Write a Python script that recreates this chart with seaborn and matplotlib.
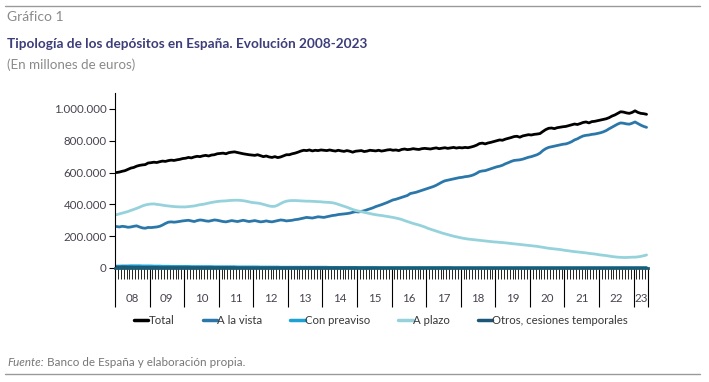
import matplotlib
matplotlib.use('Agg')
import numpy as np
import pandas as pd
import seaborn as sns
import matplotlib.pyplot as plt
from matplotlib import ticker
from matplotlib.lines import Line2D

# miles de millones de euros, mensual 2008-01 .. 2023-05
total = [
    600, 603, 608, 612, 620, 628, 632, 640, 645, 648, 650, 660,
    662, 665, 663, 668, 672, 670, 675, 678, 676, 680, 683, 688,
    690, 695, 692, 698, 702, 700, 705, 708, 704, 710, 712, 718,
    720, 722, 718, 725, 728, 730, 726, 722, 718, 715, 712, 710,
    708, 712, 706, 700, 704, 698, 695, 700, 694, 698, 705, 712,
    712, 718, 722, 728, 735, 740, 738, 742, 736, 740, 738, 742,
    740, 738, 742, 738, 735, 740, 736, 733, 738, 734, 728, 734,
    736, 738, 732, 735, 740, 738, 736, 740, 735, 738, 742, 744,
    740, 742, 738, 745, 748, 744, 746, 750, 747, 745, 750, 752,
    750, 748, 752, 755, 750, 753, 756, 752, 755, 758, 754, 757,
    755, 758, 756, 760, 765, 772, 782, 785, 780, 786, 790, 795,
    800, 805, 803, 810, 815, 820, 826, 828, 822, 830, 834, 838,
    836, 840, 842, 845, 858, 870, 878, 880, 876, 882, 885, 888,
    890, 895, 900, 905, 902, 908, 915, 918, 912, 920, 922, 926,
    930, 934, 938, 945, 955, 962, 972, 982, 980, 975, 972, 978,
    988, 978, 972, 970, 966,
]
a_la_vista = [
    261, 258, 262, 260, 256, 258, 262, 265, 258, 252, 250, 255,
    254, 256, 258, 262, 270, 280, 288, 290, 288, 290, 293, 296,
    298, 300, 296, 292, 298, 302, 300, 296, 294, 298, 302, 300,
    296, 292, 290, 294, 298, 295, 292, 296, 300, 296, 292, 295,
    298, 294, 290, 292, 296, 292, 290, 294, 298, 302, 300, 296,
    298, 300, 304, 306, 310, 314, 318, 316, 314, 318, 322, 320,
    318, 322, 326, 330, 332, 336, 338, 340, 342, 345, 350, 354,
    352, 356, 360, 366, 372, 378, 386, 392, 398, 405, 412, 420,
    428, 432, 438, 444, 450, 456, 468, 472, 476, 482, 488, 494,
    500, 506, 512, 520, 530, 540, 548, 552, 556, 560, 564, 568,
    570, 574, 576, 580, 586, 595, 606, 610, 612, 618, 624, 630,
    636, 640, 646, 655, 662, 670, 676, 678, 680, 684, 690, 696,
    700, 706, 712, 722, 738, 750, 758, 762, 766, 770, 774, 778,
    780, 786, 794, 805, 812, 822, 830, 834, 836, 840, 842, 846,
    850, 856, 864, 875, 885, 895, 905, 912, 910, 906, 904, 910,
    918, 908, 898, 890, 884,
]
con_preaviso = [
    12, 12, 13, 13, 13, 14, 14, 14, 14, 13, 13, 13,
    13, 12, 12, 12, 11, 11, 11, 10, 10, 10, 10, 10,
    10, 10, 9, 9, 9, 9, 9, 9, 9, 9, 8, 8,
    8, 8, 8, 8, 8, 8, 7, 7, 7, 7, 7, 7,
    7, 7, 6, 6, 6, 6, 6, 6, 6, 5, 5, 5,
    5, 5, 5, 5, 5, 5, 5, 5, 5, 5, 5, 5,
    5, 5, 4, 4, 4, 4, 4, 4, 4, 4, 4, 4,
    4, 4, 4, 4, 4, 4, 4, 3, 3, 3, 3, 3,
    3, 3, 3, 3, 3, 3, 3, 3, 3, 3, 3, 3,
    3, 3, 3, 3, 3, 3, 3, 3, 3, 2, 2, 2,
    2, 2, 2, 2, 2, 2, 2, 2, 2, 2, 2, 2,
    2, 2, 2, 2, 2, 2, 2, 2, 2, 2, 2, 2,
    2, 2, 2, 2, 2, 2, 2, 2, 2, 2, 2, 2,
    2, 2, 2, 2, 2, 2, 2, 2, 2, 2, 2, 2,
    2, 2, 2, 2, 2, 2, 2, 2, 2, 2, 2, 2,
    2, 2, 2, 2, 2,
]
a_plazo = [
    335, 340, 345, 350, 355, 362, 368, 375, 382, 390, 396, 400,
    402, 403, 400, 398, 395, 392, 390, 388, 386, 385, 384, 384,
    384, 386, 388, 390, 394, 398, 400, 404, 408, 412, 415, 418,
    420, 421, 422, 424, 425, 426, 426, 425, 423, 420, 416, 412,
    410, 408, 405, 400, 395, 390, 387, 388, 395, 405, 414, 420,
    423, 424, 424, 423, 422, 421, 420, 420, 419, 418, 417, 416,
    414, 413, 412, 410, 406, 400, 394, 388, 382, 375, 368, 362,
    358, 354, 350, 346, 342, 338, 335, 332, 330, 327, 324, 321,
    318, 314, 310, 305, 298, 292, 286, 280, 275, 270, 264, 258,
    250, 244, 238, 232, 226, 220, 215, 210, 205, 200, 196, 192,
    188, 185, 182, 180, 178, 176, 174, 172, 170, 168, 166, 164,
    163, 161, 160, 158, 156, 154, 152, 150, 148, 146, 144, 142,
    140, 138, 136, 133, 130, 127, 124, 122, 120, 118, 116, 113,
    110, 108, 105, 103, 101, 99, 97, 95, 92, 90, 88, 85,
    82, 80, 78, 75, 72, 70, 68, 67, 66, 66, 67, 68,
    68, 70, 73, 77, 82,
]
otros = [
    6, 6, 7, 7, 6, 6, 5, 5, 5, 4, 4, 4,
    4, 4, 4, 3, 3, 3, 3, 3, 3, 3, 3, 3,
    3, 3, 3, 3, 3, 3, 3, 3, 3, 3, 3, 3,
    3, 3, 3, 3, 3, 3, 2, 2, 2, 2, 2, 2,
    2, 2, 2, 2, 2, 2, 2, 2, 2, 2, 2, 2,
    2, 2, 2, 2, 2, 2, 2, 2, 2, 2, 2, 2,
    2, 2, 2, 2, 2, 2, 2, 2, 2, 2, 2, 2,
    1, 1, 1, 1, 1, 1, 1, 1, 1, 1, 1, 1,
    1, 1, 1, 1, 1, 1, 1, 1, 1, 1, 1, 1,
    1, 1, 1, 1, 1, 1, 1, 1, 1, 1, 1, 1,
    1, 1, 1, 1, 1, 1, 1, 1, 1, 1, 1, 1,
    1, 1, 1, 1, 1, 1, 1, 1, 1, 1, 1, 1,
    1, 1, 1, 1, 1, 1, 1, 1, 1, 1, 1, 1,
    1, 1, 1, 1, 1, 1, 1, 1, 1, 1, 1, 1,
    1, 1, 1, 1, 1, 1, 1, 1, 1, 1, 1, 1,
    1, 1, 1, 1, 1,
]
anios = ['08', '09', '10', '11', '12', '13', '14', '15', '16', '17',
         '18', '19', '20', '21', '22', '23']
series = ['Total', 'A la vista', 'Con preaviso', 'A plazo',
          'Otros, cesiones temporales']
colores = ['#000000', '#2c77aa', '#1ea2d6', '#96d2dc', '#1b5878']

n = len(total)
df = pd.DataFrame({'mes': np.arange(n), 'Total': total, 'A la vista': a_la_vista,
                   'Con preaviso': con_preaviso, 'A plazo': a_plazo,
                   'Otros, cesiones temporales': otros})
df = df.melt(id_vars='mes', var_name='serie', value_name='valor')
df['valor'] = df['valor'] * 1000

sns.set_style('white')
plt.rcParams['font.family'] = ['Lato', 'DejaVu Sans']

W, H = 709, 382
fig = plt.figure(figsize=(W / 100, H / 100), dpi=100)
ax = fig.add_axes([115 / W, 1 - 268 / H, 533 / W, 175 / H])

sns.lineplot(data=df, x='mes', y='valor', hue='serie', hue_order=series,
             palette=colores, linewidth=2.0, ax=ax)
h, l = ax.get_legend_handles_labels()
ax.get_legend().remove()
leg = fig.legend(h, l, ncol=5, loc='center', bbox_to_anchor=(381 / W, 1 - 320 / H),
                 frameon=False, fontsize=8.2, handlelength=1.25, handletextpad=0.0,
                 columnspacing=2.5)
for t in leg.get_texts():
    t.set_color('#383838')
for ln in leg.get_lines():
    ln.set_linewidth(2.5)

ax.set_xlim(-0.5, n - 0.5)
ax.set_ylim(0, 1_100_000)
ax.set_xlabel('')
ax.set_ylabel('')
ax.yaxis.set_major_locator(ticker.MultipleLocator(200000))
ax.yaxis.set_major_formatter(ticker.FuncFormatter(lambda v, p: f'{int(v):,}'.replace(',', '.')))
for s in ['top', 'right']:
    ax.spines[s].set_visible(False)
ax.spines['left'].set_color('black')
ax.spines['left'].set_linewidth(0.8)
ax.spines['bottom'].set_color('#1d5c73')
ax.spines['bottom'].set_linewidth(2)

ax.tick_params(axis='y', left=True, direction='out', length=4, width=0.8,
               color='black', labelsize=8.3, labelcolor='#48424f', pad=2)
bordes = list(np.arange(-0.5, n, 12)) + [n - 0.5]
ax.xaxis.set_major_locator(ticker.FixedLocator(bordes))
ax.xaxis.set_minor_locator(ticker.FixedLocator(np.arange(-0.5, n, 1)))
ax.xaxis.set_major_formatter(ticker.NullFormatter())
ax.tick_params(axis='x', which='major', bottom=True, direction='out', length=28,
               width=0.8, color='black')
ax.tick_params(axis='x', which='minor', bottom=True, direction='out', length=8,
               width=0.6, color='black')

centros = [12 * k + 5.5 for k in range(15)] + [182]
sec = ax.secondary_xaxis('bottom')
sec.set_xticks(centros, labels=anios)
sec.tick_params(length=0, pad=18, labelsize=8.3, labelcolor='#48424f')
sec.spines['bottom'].set_visible(False)

# cabecera y pie
fig.add_artist(Line2D([5 / W, 700 / W], [1 - 6 / H] * 2, color='#9a9a9a', lw=1))
fig.add_artist(Line2D([5 / W, 700 / W], [1 - 374 / H] * 2, color='#9a9a9a', lw=1))
fig.text(7 / W, 1 - 17 / H, 'Gráfico 1', va='center', fontsize=10, color='#8a8a8a')
fig.text(7 / W, 1 - 44 / H, 'Tipología de los depósitos en España. Evolución 2008-2023',
         va='center', fontsize=9.85, fontweight='bold', color='#3d3d7a')
fig.text(7 / W, 1 - 65 / H, '(En millones de euros)', va='center', fontsize=9.6,
         color='#8a8a8a')
f1 = fig.text(7 / W, 1 - 362 / H, 'Fuente:', va='center', fontsize=8.4,
              style='italic', color='#777777')
fig.canvas.draw()
bb = f1.get_window_extent()
fig.text((bb.x1 + 3) / W, 1 - 362 / H, 'Banco de España y elaboración propia.',
         va='center', fontsize=8.4, color='#777777')

fig.savefig('out.png', dpi=100)
